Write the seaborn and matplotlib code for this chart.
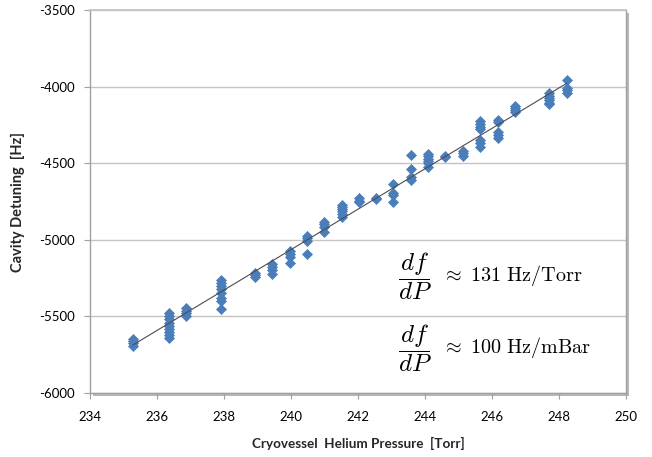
import numpy as np
import pandas as pd
import matplotlib
matplotlib.use("Agg")
import matplotlib.pyplot as plt
import seaborn as sns
from matplotlib.patches import Rectangle

# ================= DADOS =================
pressure_torr = [235.28, 236.36, 236.87, 237.90, 238.93, 239.43, 239.97, 240.48,
                 240.99, 241.51, 242.03, 242.54, 243.04, 243.57, 244.09, 244.61,
                 245.12, 245.64, 246.17, 246.69, 247.70, 248.23]

detuning_hz = [
    [-5645, -5660, -5675, -5690],
    [-5480, -5500, -5520, -5540, -5560, -5580, -5600, -5620, -5640],
    [-5445, -5465, -5480, -5500],
    [-5260, -5280, -5300, -5320, -5350, -5380, -5400, -5450],
    [-5215, -5230, -5240],
    [-5160, -5180, -5200, -5225],
    [-5070, -5090, -5110, -5150],
    [-4975, -4990, -5010, -5095],
    [-4885, -4900, -4915, -4950],
    [-4770, -4785, -4800, -4815, -4830, -4850],
    [-4730, -4745, -4755],
    [-4725, -4735],
    [-4635, -4695, -4710, -4750],
    [-4445, -4540, -4590, -4610],
    [-4440, -4455, -4470, -4485, -4500, -4525],
    [-4450, -4460],
    [-4420, -4435, -4450],
    [-4225, -4245, -4265, -4280, -4350, -4370, -4395],
    [-4215, -4230, -4295, -4315, -4335],
    [-4125, -4140, -4155, -4165],
    [-4045, -4060, -4075, -4090, -4105, -4115],
    [-3960, -4010, -4025, -4040],
]

x_ticks = [234, 236, 238, 240, 242, 244, 246, 248, 250]
y_ticks = [-6000, -5500, -5000, -4500, -4000, -3500]

# anotações: fração df/dP e valor do coeficiente
annot_frac = r"$\dfrac{df}{dP}$"
annot_vals = [r"$\approx\ \mathrm{131\ Hz/Torr}$",
              r"$\approx\ \mathrm{100\ Hz/mBar}$"]
annot_y = [-5236, -5706]

# ================= PREPARA DATAFRAME =================
linhas = []
for p, vals in zip(pressure_torr, detuning_hz):
    for v in vals:
        linhas.append({"Pressao": p, "Detuning": v})
df = pd.DataFrame(linhas)

# ================= PLOTAGEM =================
sns.set_theme(style="white")
plt.rcParams["font.family"] = ["Lato", "DejaVu Sans"]
plt.rcParams["mathtext.fontset"] = "cm"

fig = plt.figure(figsize=(6.52, 4.57), dpi=100)
ax = fig.add_axes([90 / 652, 1 - 393 / 457, 536 / 652, 383 / 457])

# sombra estilo Excel atrás da área do gráfico
pos = ax.get_position()
sombra = Rectangle((pos.x0 + 3 / 652, pos.y0 - 3 / 457), pos.width, pos.height,
                   transform=fig.transFigure, facecolor="#b8b8b8", edgecolor="none",
                   zorder=-2)
fig.add_artist(sombra)
ax.set_facecolor("white")

for y in y_ticks:
    ax.axhline(y, color="#c4c4c4", linewidth=1.0, zorder=0)

sns.scatterplot(data=df, x="Pressao", y="Detuning", ax=ax, marker="D", s=26,
                color="#4a7ebb", edgecolor="#4a7ebb", linewidth=0.5, zorder=3)
sns.regplot(data=df, x="Pressao", y="Detuning", ax=ax, scatter=False, ci=None,
            line_kws=dict(color="#4d4d4d", linewidth=0.8, zorder=4))

ax.set_xlim(234, 250)
ax.set_ylim(-6000, -3500)
ax.set_xticks(x_ticks)
ax.set_yticks(y_ticks)
ax.set_xticklabels([str(t) for t in x_ticks])
ax.set_yticklabels([str(t) for t in y_ticks])
ax.tick_params(axis="both", which="both", direction="out", length=4, width=0.8,
               color="#a0a0a0", labelsize=9.5, colors="black")
ax.tick_params(axis="x", pad=9, bottom=True)
ax.tick_params(axis="y", pad=7, left=True)
ax.tick_params(axis="both", color="#a0a0a0")

for lado in ["left", "bottom", "right"]:
    ax.spines[lado].set_color("#a0a0a0")
    ax.spines[lado].set_linewidth(1.0)
ax.spines["top"].set_color("#c4c4c4")

ax.set_xlabel("Cryovessel  Helium Pressure  [Torr]", fontsize=9.7,
              fontweight="bold", labelpad=10)
ax.set_ylabel("Cavity Detuning  [Hz]", fontsize=10.5, fontweight="bold", labelpad=10)

for txt, yy in zip(annot_vals, annot_y):
    ax.text(243.2, yy, annot_frac, fontsize=18, va="center", ha="left", color="black")
    ax.text(244.5, yy, txt, fontsize=14.5, va="center", ha="left", color="black")

fig.savefig("out.png", dpi=100)
